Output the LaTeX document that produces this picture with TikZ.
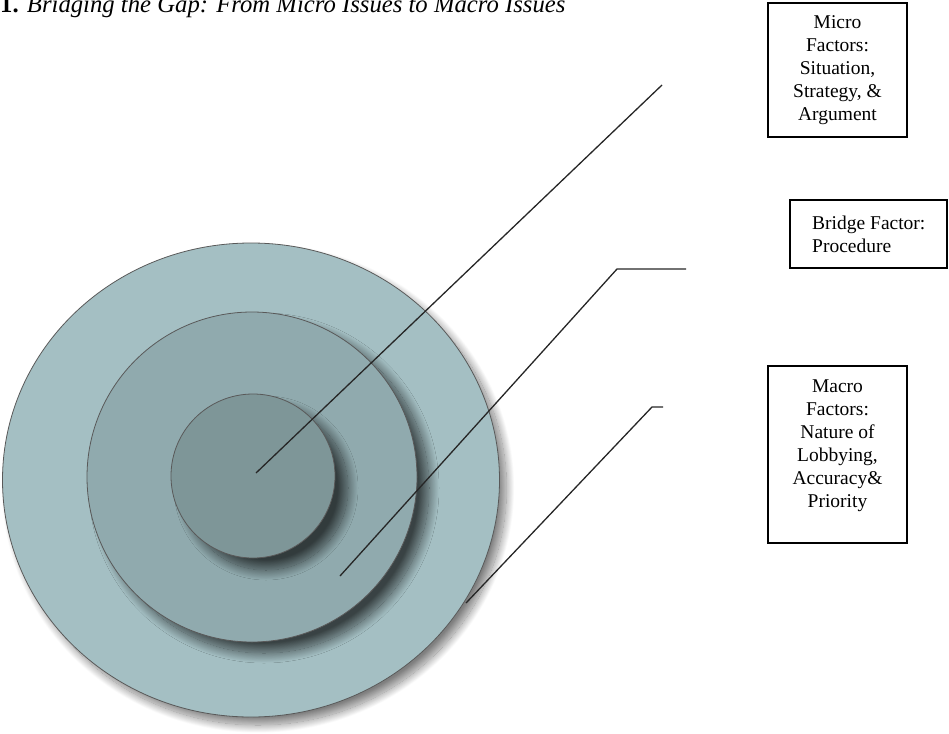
\documentclass[tikz,border=0pt]{standalone}
\usepackage{fontspec}
\setmainfont{Liberation Serif}
\usetikzlibrary{shadows.blur,shapes.geometric}
\definecolor{outerc}{HTML}{A4BFC3}
\definecolor{midc}{HTML}{90AAAE}
\definecolor{innerc}{HTML}{7E9698}
\begin{document}
\begin{tikzpicture}[x=1pt,y=-1pt,
  ring/.style={draw=black!65, line width=0.8pt, inner sep=0pt},
  boxst/.style={draw=black, line width=2pt, inner sep=0pt, rectangle},
  txt/.style={inner sep=0pt, font=\fontsize{19.5}{23}\selectfont},
  lead/.style={draw=black!85, line width=1.3pt}]
\useasboundingbox (0,0) rectangle (949,733);
\node[ellipse, ring, fill=outerc, minimum width=497pt, minimum height=474pt,
  blur shadow={shadow xshift=7pt, shadow yshift=-8pt, shadow blur radius=8pt, shadow blur steps=25, shadow opacity=50}] (outer) at (251,480) {};
\node[circle, ring, fill=midc, minimum size=330pt,
  blur shadow={shadow xshift=12pt, shadow yshift=-11pt, shadow blur radius=10pt, shadow blur steps=25, shadow opacity=65}] (middle) at (252,477) {};
\node[circle, ring, fill=innerc, minimum size=164pt,
  blur shadow={shadow xshift=13pt, shadow yshift=-12pt, shadow blur radius=10pt, shadow blur steps=25, shadow opacity=65}] (inner) at (253,476) {};
% title
\node[anchor=base west, inner sep=0pt, font=\fontsize{24.7}{28}\selectfont] (title) at (0,12.5)
  {\textbf{1.} \textit{Bridging the Gap: From Micro Issues to Macro Issues}};
% boxes
\node[boxst, minimum width=139pt, minimum height=134pt] (microbox) at (837.5,70) {};
\node[txt, align=center] (microtxt) at (microbox.center) {Micro\\Factors:\\Situation,\\Strategy, \&\\Argument};
\node[boxst, minimum width=157pt, minimum height=68pt] (bridgebox) at (868.5,234) {};
\node[txt, align=left, anchor=west] (bridgetxt) at (812,234) {Bridge Factor:\\Procedure};
\node[boxst, minimum width=139pt, minimum height=177pt] (macrobox) at (837.5,454.5) {};
\node[txt, align=center] (macrotxt) at (837.5,446) {Macro\\Factors:\\Nature of\\Lobbying,\\Accuracy\&\\Priority};
% leader lines
\coordinate (s1) at (256,473);
\coordinate (e1) at (662,85);
\coordinate (s2) at (340,576);
\coordinate (k2) at (617,269);
\coordinate (e2) at (686,269);
\coordinate (s3) at (466,603);
\coordinate (k3) at (652,407);
\coordinate (e3) at (663,407);
\draw[lead] (s1) -- (e1);
\draw[lead] (s2) -- (k2) -- (e2);
\draw[lead] (s3) -- (k3) -- (e3);
\end{tikzpicture}
\end{document}
